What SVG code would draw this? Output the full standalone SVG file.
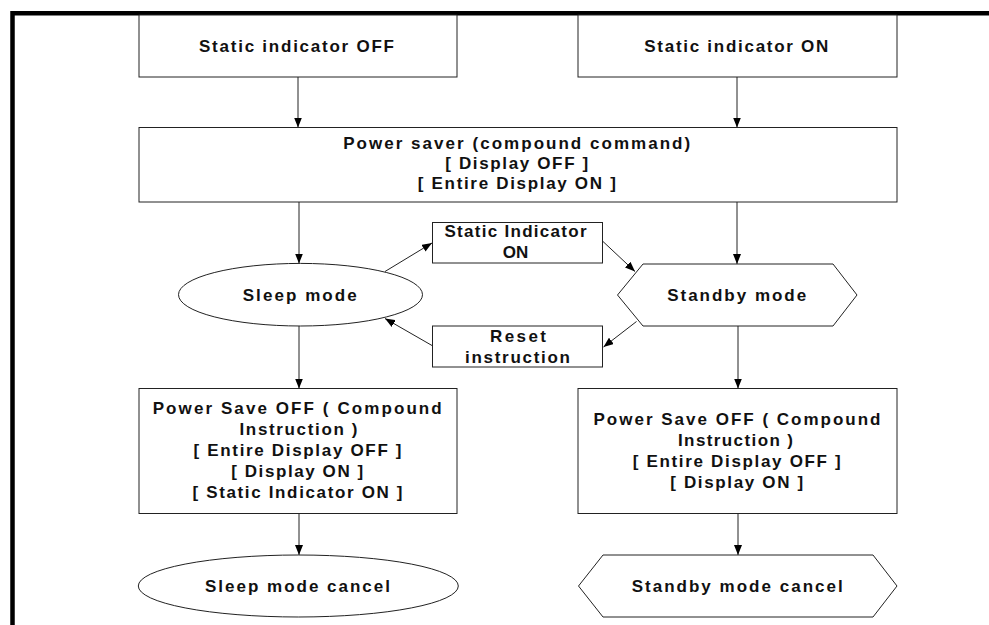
<svg xmlns="http://www.w3.org/2000/svg" width="989" height="625" viewBox="0 0 989 625">
<style>
.n{fill:#fff;stroke:#222;stroke-width:1}
.t{font-family:"Liberation Sans",Arial,sans-serif;font-weight:bold;font-size:17px;fill:#111;text-anchor:middle}
.c{stroke:#222;stroke-width:1;fill:none;marker-end:url(#ah)}
</style>
<defs>
<marker id="ah" markerWidth="10" markerHeight="8" refX="10" refY="4" orient="auto" markerUnits="userSpaceOnUse"><path d="M0,0 L10,4 L0,8 z" fill="#000"/></marker>
</defs>
<rect width="989" height="625" fill="#fff"/>
<path d="M12.5,625 V13.2 H989" fill="none" stroke="#000" stroke-width="4.5"/>
<g id="connectors">
<line class="c" x1="298" y1="77" x2="298" y2="127.5"/>
<line class="c" x1="737" y1="77" x2="737" y2="127.5"/>
<line class="c" x1="299" y1="202" x2="299" y2="263.5"/>
<line class="c" x1="737" y1="202" x2="737" y2="264"/>
<line class="c" x1="299" y1="326" x2="299" y2="388.5"/>
<line class="c" x1="738" y1="326" x2="738" y2="388.5"/>
<line class="c" x1="299" y1="513.5" x2="299" y2="555"/>
<line class="c" x1="738" y1="513.5" x2="738" y2="555"/>
<line class="c" x1="385" y1="271.5" x2="432" y2="243"/>
<line class="c" x1="603" y1="241.5" x2="635" y2="271.5"/>
<line class="c" x1="636.5" y1="321.5" x2="603.5" y2="347"/>
<line class="c" x1="432" y1="345.5" x2="385" y2="318.5"/>
</g>
<g id="static-off">
<rect class="n" x="139" y="15" width="318" height="62"/>
<text class="t" x="296.5" y="52" textLength="195" lengthAdjust="spacing">Static indicator OFF</text>
</g>
<g id="static-on">
<rect class="n" x="578" y="15" width="319" height="62"/>
<text class="t" x="736.3" y="52" textLength="184" lengthAdjust="spacing">Static indicator ON</text>
</g>
<g id="power-saver">
<rect class="n" x="139" y="127.5" width="758" height="74.5"/>
<text class="t" x="516.7" y="148.5" textLength="347" lengthAdjust="spacing">Power saver (compound command)</text>
<text class="t" x="516.7" y="169" textLength="143" lengthAdjust="spacing">[ Display OFF ]</text>
<text class="t" x="516.8" y="189" textLength="198" lengthAdjust="spacing">[ Entire Display ON ]</text>
</g>
<g id="sleep-mode">
<ellipse class="n" cx="300.5" cy="294.7" rx="122" ry="31.3"/>
<text class="t" x="299.7" y="300.5" textLength="114" lengthAdjust="spacing">Sleep mode</text>
</g>
<g id="static-indicator-on">
<rect class="n" x="432.5" y="222.5" width="170" height="40.5"/>
<text class="t" x="515.5" y="236.7" textLength="142" lengthAdjust="spacing">Static Indicator</text>
<text class="t" x="515.5" y="258.3">ON</text>
</g>
<g id="reset-instruction">
<rect class="n" x="432.5" y="326" width="170" height="41"/>
<text class="t" x="518" y="341.5" textLength="56" lengthAdjust="spacing">Reset</text>
<text class="t" x="517.5" y="363" textLength="105" lengthAdjust="spacing">instruction</text>
</g>
<g id="standby-mode">
<polygon class="n" points="617.5,295 643,264 833,264 857,295 833,326 643,326"/>
<text class="t" x="736.7" y="300.5" textLength="139" lengthAdjust="spacing">Standby mode</text>
</g>
<g id="power-save-off-left">
<rect class="n" x="139" y="388.5" width="318" height="125"/>
<text class="t" x="297.2" y="413.5" textLength="289" lengthAdjust="spacing">Power Save OFF ( Compound</text>
<text class="t" x="298.5" y="434.5" textLength="118" lengthAdjust="spacing">Instruction )</text>
<text class="t" x="297.5" y="455.7" textLength="208" lengthAdjust="spacing">[ Entire Display OFF ]</text>
<text class="t" x="297.2" y="477.2" textLength="132" lengthAdjust="spacing">[ Display ON ]</text>
<text class="t" x="297.5" y="498.3" textLength="210" lengthAdjust="spacing">[ Static Indicator ON ]</text>
</g>
<g id="power-save-off-right">
<rect class="n" x="578" y="388.5" width="319" height="125"/>
<text class="t" x="737" y="424.8" textLength="287" lengthAdjust="spacing">Power Save OFF ( Compound</text>
<text class="t" x="735.5" y="445.5" textLength="115" lengthAdjust="spacing">Instruction )</text>
<text class="t" x="736.7" y="466.7" textLength="208" lengthAdjust="spacing">[ Entire Display OFF ]</text>
<text class="t" x="736.7" y="488" textLength="133" lengthAdjust="spacing">[ Display ON ]</text>
</g>
<g id="sleep-mode-cancel">
<ellipse class="n" cx="298.3" cy="586" rx="160" ry="31"/>
<text class="t" x="297.5" y="591.5" textLength="185" lengthAdjust="spacing">Sleep mode cancel</text>
</g>
<g id="standby-mode-cancel">
<polygon class="n" points="578.5,586 603,555 873,555 897,586 873,617 603,617"/>
<text class="t" x="737.2" y="591.5" textLength="211" lengthAdjust="spacing">Standby mode cancel</text>
</g>
</svg>
